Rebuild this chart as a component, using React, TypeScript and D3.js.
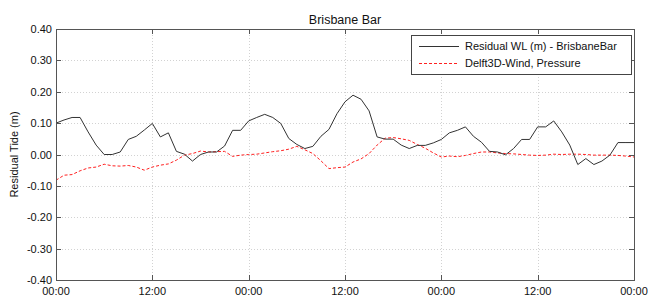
import { useEffect, useRef } from "react";
import * as d3 from "d3";

// hours since start (3 days)
const hours = d3.range(0, 73);

// observed residual water level, hourly (m)
const residualWL = [
  0.100, 0.110, 0.118, 0.118, 0.072, 0.030, 0.000, 0.000, 0.008, 0.048,
  0.058, 0.078, 0.099, 0.056, 0.069, 0.010, 0.001, -0.021, 0.000, 0.008,
  0.008, 0.027, 0.077, 0.077, 0.107, 0.118, 0.128, 0.118, 0.099, 0.051,
  0.032, 0.019, 0.026, 0.058, 0.080, 0.130, 0.168, 0.189, 0.176, 0.139,
  0.056, 0.049, 0.049, 0.030, 0.019, 0.029, 0.029, 0.037, 0.048, 0.069,
  0.077, 0.088, 0.058, 0.039, 0.010, 0.008, -0.001, 0.019, 0.048, 0.048,
  0.088, 0.088, 0.107, 0.072, 0.030, -0.032, -0.013, -0.032, -0.021, -0.002,
  0.038, 0.038, 0.038,
];

// modelled residual (Delft3D wind + pressure), hourly (m)
const delft3d = [
  -0.082, -0.066, -0.064, -0.052, -0.043, -0.040, -0.031, -0.036, -0.037, -0.035,
  -0.040, -0.050, -0.040, -0.034, -0.030, -0.018, -0.002, 0.003, 0.011, 0.008,
  0.009, 0.010, -0.006, -0.002, 0.000, 0.001, 0.005, 0.009, 0.012, 0.017,
  0.026, 0.015, 0.003, -0.020, -0.045, -0.042, -0.040, -0.024, -0.014, 0.003,
  0.030, 0.052, 0.054, 0.050, 0.045, 0.032, 0.020, 0.005, -0.008, -0.005,
  -0.007, -0.003, 0.003, 0.008, 0.008, 0.005, 0.003, 0.002, 0.000, -0.002,
  -0.003, -0.002, 0.001, 0.000, 0.001, 0.001, 0.000, -0.002, -0.002, -0.002,
  -0.003, -0.005, -0.008,
];

const xTicks = [0, 12, 24, 36, 48, 60, 72];
const xTickLabels = ["00:00", "12:00", "00:00", "12:00", "00:00", "12:00", "00:00"];
const yTicks = [-0.4, -0.3, -0.2, -0.1, 0, 0.1, 0.2, 0.3, 0.4];
const yTickLabels = ["-0.40", "-0.30", "-0.20", "-0.10", "0.00", "0.10", "0.20", "0.30", "0.40"];

const seriesNames = ["Residual WL (m) - BrisbaneBar", "Delft3D-Wind, Pressure"];

export default function App() {
  const svgRef = useRef<SVGSVGElement>(null);

  useEffect(() => {
    const width = 648;
    const height = 298;
    const left = 56, right = 634, top = 29, bottom = 280;
    const font = "Arial, 'Liberation Sans', sans-serif";

    const svg = d3.select(svgRef.current);
    svg.selectAll("*").remove();

    const x = d3.scaleLinear().domain([0, 72]).range([left, right]);
    const y = d3.scaleLinear().domain([-0.4, 0.4]).range([bottom, top]);

    svg.append("rect")
      .attr("width", width).attr("height", height).attr("fill", "white");

    // grid
    const grid = svg.append("g")
      .attr("stroke", "#d2d2d2")
      .attr("stroke-width", 1)
      .attr("stroke-dasharray", "1,2");
    grid.selectAll("line.gx")
      .data(xTicks.slice(1, -1))
      .enter().append("line")
      .attr("x1", d => Math.round(x(d)) + 0.5).attr("x2", d => Math.round(x(d)) + 0.5)
      .attr("y1", top).attr("y2", bottom);
    grid.selectAll("line.gy")
      .data(yTicks.slice(1, -1))
      .enter().append("line")
      .attr("x1", left).attr("x2", right)
      .attr("y1", d => Math.round(y(d)) + 0.5).attr("y2", d => Math.round(y(d)) + 0.5);

    // series
    const line = (vals: number[]) =>
      d3.line<number>()
        .x((_, i) => x(hours[i]))
        .y(d => y(d))(vals);

    svg.append("path")
      .attr("d", line(delft3d))
      .attr("fill", "none")
      .attr("stroke", "#ff2020")
      .attr("stroke-width", 1)
      .attr("stroke-dasharray", "3,2");

    svg.append("path")
      .attr("d", line(residualWL))
      .attr("fill", "none")
      .attr("stroke", "#333")
      .attr("stroke-width", 1);

    // box
    svg.append("rect")
      .attr("x", left + 0.5).attr("y", top + 0.5)
      .attr("width", right - left).attr("height", bottom - top)
      .attr("fill", "none").attr("stroke", "#555").attr("stroke-width", 1);

    // ticks (inside, on all four sides)
    const ticks = svg.append("g").attr("stroke", "#555").attr("stroke-width", 1);
    xTicks.forEach(t => {
      const xx = Math.round(x(t)) + 0.5;
      ticks.append("line").attr("x1", xx).attr("x2", xx).attr("y1", bottom).attr("y2", bottom - 5);
      ticks.append("line").attr("x1", xx).attr("x2", xx).attr("y1", top).attr("y2", top + 5);
    });
    yTicks.forEach(t => {
      const yy = Math.round(y(t)) + 0.5;
      ticks.append("line").attr("x1", left).attr("x2", left + 5).attr("y1", yy).attr("y2", yy);
      ticks.append("line").attr("x1", right).attr("x2", right - 5).attr("y1", yy).attr("y2", yy);
    });

    // tick labels
    svg.selectAll("text.xl")
      .data(xTicks)
      .enter().append("text")
      .attr("x", d => x(d))
      .attr("y", bottom + 15)
      .attr("text-anchor", "middle")
      .attr("font-family", font)
      .attr("font-size", "11px")
      .attr("fill", "#111")
      .text((_, i) => xTickLabels[i]);

    svg.selectAll("text.yl")
      .data(yTicks)
      .enter().append("text")
      .attr("x", left - 4)
      .attr("y", d => y(d) + 4)
      .attr("text-anchor", "end")
      .attr("font-family", font)
      .attr("font-size", "11px")
      .attr("fill", "#111")
      .text((_, i) => yTickLabels[i]);

    // title and axis label
    svg.append("text")
      .attr("x", (left + right) / 2)
      .attr("y", 24)
      .attr("text-anchor", "middle")
      .attr("font-family", font)
      .attr("font-size", "12.5px")
      .attr("fill", "#111")
      .text("Brisbane Bar");

    svg.append("text")
      .attr("transform", `translate(18,${(top + bottom) / 2}) rotate(-90)`)
      .attr("text-anchor", "middle")
      .attr("font-family", font)
      .attr("font-size", "11px")
      .attr("fill", "#111")
      .text("Residual Tide (m)");

    // legend
    const lg = svg.append("g");
    lg.append("rect")
      .attr("x", 411.5).attr("y", 35.5)
      .attr("width", 220).attr("height", 39)
      .attr("fill", "white").attr("stroke", "#444").attr("stroke-width", 1);
    const legendStyles = [
      { stroke: "#333", dash: null },
      { stroke: "#ff2020", dash: "3,2" },
    ];
    seriesNames.forEach((name, i) => {
      const ly = 46 + i * 17;
      lg.append("line")
        .attr("x1", 419).attr("x2", 459)
        .attr("y1", ly + 0.5).attr("y2", ly + 0.5)
        .attr("stroke", legendStyles[i].stroke)
        .attr("stroke-width", 1)
        .attr("stroke-dasharray", legendStyles[i].dash);
      lg.append("text")
        .attr("x", 465)
        .attr("y", ly + 4)
        .attr("font-family", font)
        .attr("font-size", "11px")
        .attr("fill", "#111")
        .text(name);
    });
  }, []);

  return (
    <div style={{ position: "absolute", left: 0, top: 0 }}>
      <svg ref={svgRef} width={648} height={298} style={{ display: "block" }}></svg>
    </div>
  );
}
